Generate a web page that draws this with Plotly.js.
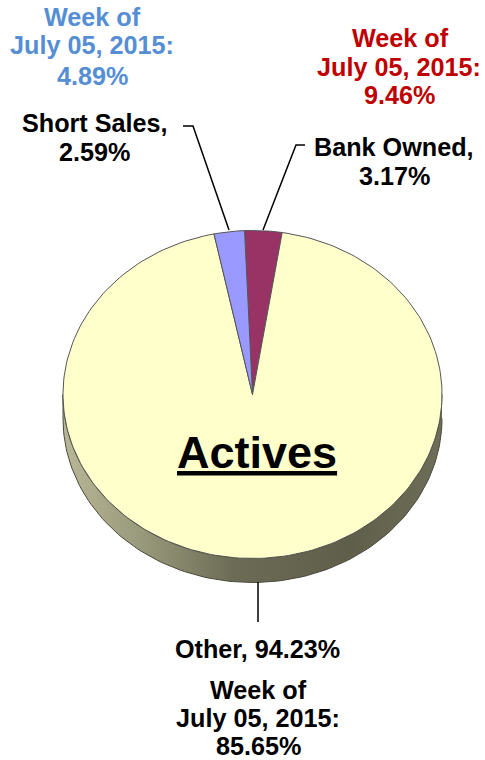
<!DOCTYPE html>
<html>
<head>
<meta charset="utf-8">
<script src="https://cdn.plot.ly/plotly-3.0.1.min.js"></script>
<style>html,body{margin:0;padding:0;background:#fff;}#chart{width:485px;height:760px;}</style>
</head>
<body>
<div id="chart"></div>
<script>
// ---- data ----
const categories = ['Bank Owned', 'Other', 'Short Sales'];
const shares = [3.17, 94.23, 2.59];
const priorWeekShares = [9.46, 85.65, 4.89];
const priorWeekLabel = ['Week of', 'July 05, 2015:'];
const chartTitle = 'Actives';

// ---- style ----
const sliceColors = ['#993366', '#FFFFCC', '#9999FF'];
const priorColors = ['#C00000', '#000000', '#558ED5'];
const FONT = 'Liberation Sans, Arial, sans-serif';
const FS = 25.2;

// geometry of the tilted pie (pixel space)
const cx = 252.5, cy = 394.5, rx = 189.5, ry = 164, depth = 24;
const startDeg = -2.4; // first slice starts just left of 12 o'clock, clockwise

const total = shares.reduce((a, b) => a + b, 0);
const traces = [];

// side (visible front half)
(function () {
  const xs = [], ys = [];
  const N = 120;
  for (let k = 0; k <= N; k++) {
    const p = Math.PI * k / N;
    xs.push(cx + rx * Math.cos(p)); ys.push(cy + ry * Math.sin(p));
  }
  for (let k = N; k >= 0; k--) {
    const p = Math.PI * k / N;
    xs.push(cx + rx * Math.cos(p)); ys.push(cy + depth + ry * Math.sin(p));
  }
  traces.push({
    type: 'scatter', mode: 'lines', x: xs, y: ys, fill: 'toself',
    fillgradient: {type: 'horizontal', colorscale: [[0, '#b8b898'], [0.2, '#9a9a7c'], [0.45, '#6c6c56'], [0.75, '#5e5e4a'], [1, '#6e6e58']]},
    line: {color: '#4a4a3a', width: 1}, hoverinfo: 'skip', showlegend: false
  });
})();

// slices on the top face
let acc = startDeg * Math.PI / 180;
shares.forEach((v, i) => {
  const a0 = acc, a1 = acc + 2 * Math.PI * v / total;
  acc = a1;
  const xs = [cx], ys = [cy];
  const N = Math.max(4, Math.ceil(240 * v / total));
  for (let k = 0; k <= N; k++) {
    const a = a0 + (a1 - a0) * k / N;
    xs.push(cx + rx * Math.sin(a)); ys.push(cy - ry * Math.cos(a));
  }
  xs.push(cx); ys.push(cy);
  traces.push({
    type: 'scatter', mode: 'lines', x: xs, y: ys, fill: 'toself',
    fillcolor: sliceColors[i], line: {color: '#555555', width: 1},
    hoverinfo: 'skip', showlegend: false, name: categories[i]
  });
});

// ---- labels ----
const annotations = [];
function addText(text, x, y, size, color) {
  annotations.push({xref: 'x', yref: 'y', x: x, y: y, text: text, showarrow: false,
    xanchor: 'center', yanchor: 'middle', font: {family: FONT, size: size, color: color}});
}
const pct = v => v.toFixed(2) + '%';
// Short Sales (index 2)
addText('<b>' + priorWeekLabel[0] + '</b>', 92, 17, FS, priorColors[2]);
addText('<b>' + priorWeekLabel[1] + '</b>', 92, 45, FS, priorColors[2]);
addText('<b>' + pct(priorWeekShares[2]) + '</b>', 92, 76, FS, priorColors[2]);
addText('<b>' + categories[2] + ',</b>', 95, 123, FS, '#000');
addText('<b>' + pct(shares[2]) + '</b>', 94, 152, FS, '#000');
// Bank Owned (index 0)
addText('<b>' + priorWeekLabel[0] + '</b>', 400, 38, FS, priorColors[0]);
addText('<b>' + priorWeekLabel[1] + '</b>', 398.5, 67, FS, priorColors[0]);
addText('<b>' + pct(priorWeekShares[0]) + '</b>', 399, 95, FS, priorColors[0]);
addText('<b>' + categories[0] + ',</b>', 394, 147, FS, '#000');
addText('<b>' + pct(shares[0]) + '</b>', 394, 176, FS, '#000');
// Other (index 1)
addText('<b>' + categories[1] + ', ' + pct(shares[1]) + '</b>', 257, 649, FS, '#000');
addText('<b>' + priorWeekLabel[0] + '</b>', 258, 690, FS, priorColors[1]);
addText('<b>' + priorWeekLabel[1] + '</b>', 258, 718, FS, priorColors[1]);
addText('<b>' + pct(priorWeekShares[1]) + '</b>', 258, 746, FS, priorColors[1]);
// title in the pie
addText('<b><u>' + chartTitle + '</u></b>', 257, 452, 45, '#000');

// leader lines
const shapes = [
  {type: 'path', xref: 'x', yref: 'y', path: 'M183,126 L193,126 L229,230', line: {color: '#000', width: 1.5}},
  {type: 'path', xref: 'x', yref: 'y', path: 'M305,145 L296,145 L263,230', line: {color: '#000', width: 1.5}},
  {type: 'path', xref: 'x', yref: 'y', path: 'M258,582 L258,622', line: {color: '#000', width: 1.5}}
];

const layout = {
  width: 485, height: 760,
  margin: {l: 0, r: 0, t: 0, b: 0},
  paper_bgcolor: '#ffffff', plot_bgcolor: '#ffffff',
  xaxis: {range: [0, 485], visible: false, fixedrange: true},
  yaxis: {range: [760, 0], visible: false, fixedrange: true},
  showlegend: false,
  annotations: annotations,
  shapes: shapes
};

Plotly.newPlot('chart', traces, layout, {displayModeBar: false, staticPlot: true});
</script>
</body>
</html>
